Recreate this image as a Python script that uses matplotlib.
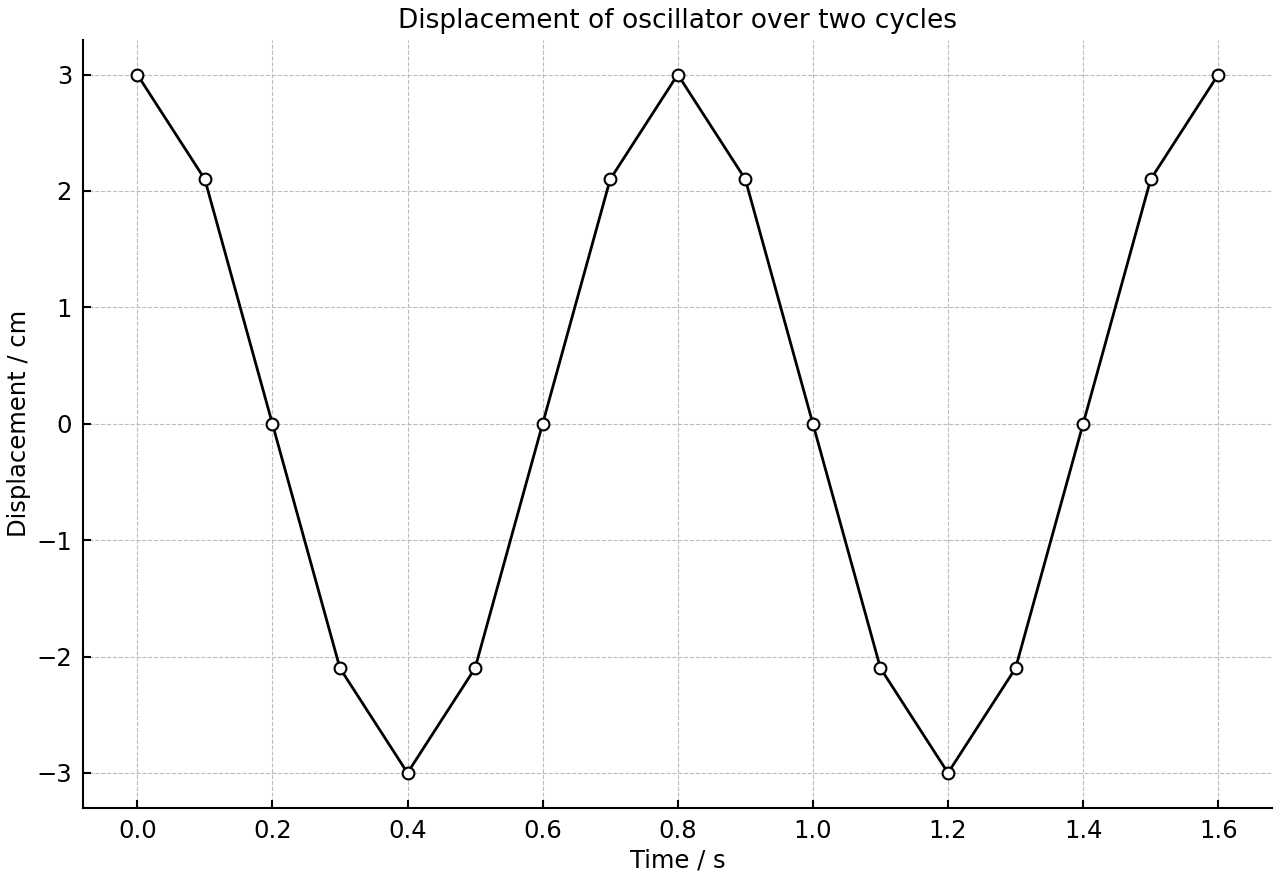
import matplotlib
matplotlib.use('Agg')
import matplotlib.pyplot as plt

time_s = [0.0, 0.1, 0.2, 0.3, 0.4, 0.5, 0.6, 0.7, 0.8, 0.9, 1.0, 1.1, 1.2, 1.3, 1.4, 1.5, 1.6]
disp_cm = [3, 2.1, 0, -2.1, -3, -2.1, 0, 2.1, 3, 2.1, 0, -2.1, -3, -2.1, 0, 2.1, 3]

fig, ax = plt.subplots(figsize=(12.8, 8.8), dpi=100)
ax.plot(time_s, disp_cm, color='black', linewidth=2, marker='o', markersize=8.5,
        markerfacecolor='white', markeredgecolor='black', markeredgewidth=1.5, zorder=3)

ax.set_title('Displacement of oscillator over two cycles', fontsize=19, pad=8)
ax.set_xlabel('Time / s', fontsize=17.5, labelpad=4)
ax.set_ylabel('Displacement / cm', fontsize=17.5, labelpad=4)
ax.set_xticks([0.0, 0.2, 0.4, 0.6, 0.8, 1.0, 1.2, 1.4, 1.6])
ax.set_yticks([-3, -2, -1, 0, 1, 2, 3])
ax.tick_params(direction='in', labelsize=17.5, length=6, width=1.5, pad=8)
ax.grid(True, linestyle='--', color='#bbbbbb', linewidth=0.8)
ax.spines['top'].set_visible(False)
ax.spines['right'].set_visible(False)
ax.spines['left'].set_linewidth(1.5)
ax.spines['bottom'].set_linewidth(1.5)

fig.subplots_adjust(left=0.065, right=0.994, top=0.955, bottom=0.082)
fig.savefig('out.png')
